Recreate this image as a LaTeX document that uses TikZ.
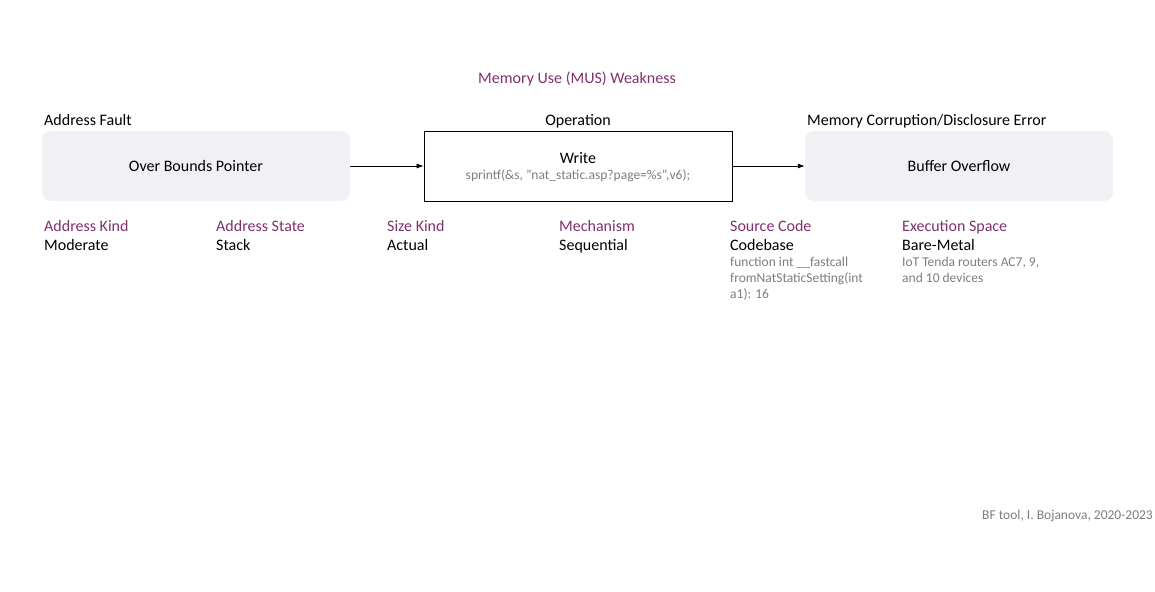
\documentclass[tikz,border=0pt]{standalone}
\usepackage{fontspec}
\setmainfont{Carlito}
\usetikzlibrary{arrows.meta}
\definecolor{bfpurple}{RGB}{128,48,110}
\definecolor{bfgray}{RGB}{125,125,125}
\definecolor{bffill}{RGB}{241,240,245}
\tikzset{
  x=1pt, y=-1pt,
  big/.style={font=\fontsize{16}{18}\selectfont, text height=11pt, text depth=3pt},
  classbox/.style={minimum width=308pt, minimum height=70pt, inner sep=0pt, font=\fontsize{16}{18}\selectfont},
  softbox/.style={classbox, rounded corners=9pt, fill=bffill},
  opbox/.style={classbox, draw=black, line width=0.8pt},
  head/.style={big, text=black, inner sep=0pt},
  attrname/.style={big, text=bfpurple, inner sep=0pt, anchor=west},
  attrval/.style={big, text=black, inner sep=0pt, anchor=west},
  note/.style={font=\fontsize{13.5}{16}\selectfont, text=bfgray, inner sep=0pt, anchor=north west, align=left},
  flow/.style={-{Latex[length=7pt,width=5pt]}, line width=0.7pt}
}
\begin{document}
\begin{tikzpicture}
\useasboundingbox (0,0) rectangle (1155,591);

\node[big, text=bfpurple, inner sep=0pt] (title) at (577,80) {Memory Use (MUS) Weakness};

% class boxes
\node[softbox] (fault) at (196,166) {Over Bounds Pointer};
\node[opbox] (oper) at (578,166) {};
\node[big, inner sep=0pt] (write) at (578,159) {Write};
\node[font=\fontsize{13.5}{15}\selectfont, text=bfgray, inner sep=0pt] (code) at (578,176) {sprintf(\&s, "nat\_static.asp?page=\%s",v6);};
\node[softbox] (error) at (959,166) {Buffer Overflow};

% headings above the boxes
\node[head, anchor=west] (hfault) at (44,121) {Address Fault};
\node[head] (hoper) at (578,121) {Operation};
\node[head, anchor=west] (herror) at (807,121) {Memory Corruption/Disclosure Error};

% flow between classes
\draw[flow] (fault.east) -- (oper.west);
\draw[flow] (oper.east) -- (error.west);

% attributes
\node[attrname] (a1) at (44,227) {Address Kind};
\node[attrval]  (v1) at (44,246) {Moderate};
\node[attrname] (a2) at (216,227) {Address State};
\node[attrval]  (v2) at (216,246) {Stack};
\node[attrname] (a3) at (387,227) {Size Kind};
\node[attrval]  (v3) at (387,246) {Actual};
\node[attrname] (a4) at (559,227) {Mechanism};
\node[attrval]  (v4) at (559,246) {Sequential};
\node[attrname] (a5) at (730,227) {Source Code};
\node[attrval]  (v5) at (730,246) {Codebase};
\node[note] (n5) at (730,257) {function int \_\_fastcall\\fromNatStaticSetting(int\\a1): 16};
\node[attrname] (a6) at (902,227) {Execution Space};
\node[attrval]  (v6) at (902,246) {Bare-Metal};
\node[note] (n6) at (902,257) {IoT Tenda routers AC7, 9,\\and 10 devices};

\node[font=\fontsize{13.5}{15}\selectfont, text=bfgray, inner sep=0pt, anchor=east] (credit) at (1153,516) {BF tool, I. Bojanova, 2020-2023};
\end{tikzpicture}
\end{document}
